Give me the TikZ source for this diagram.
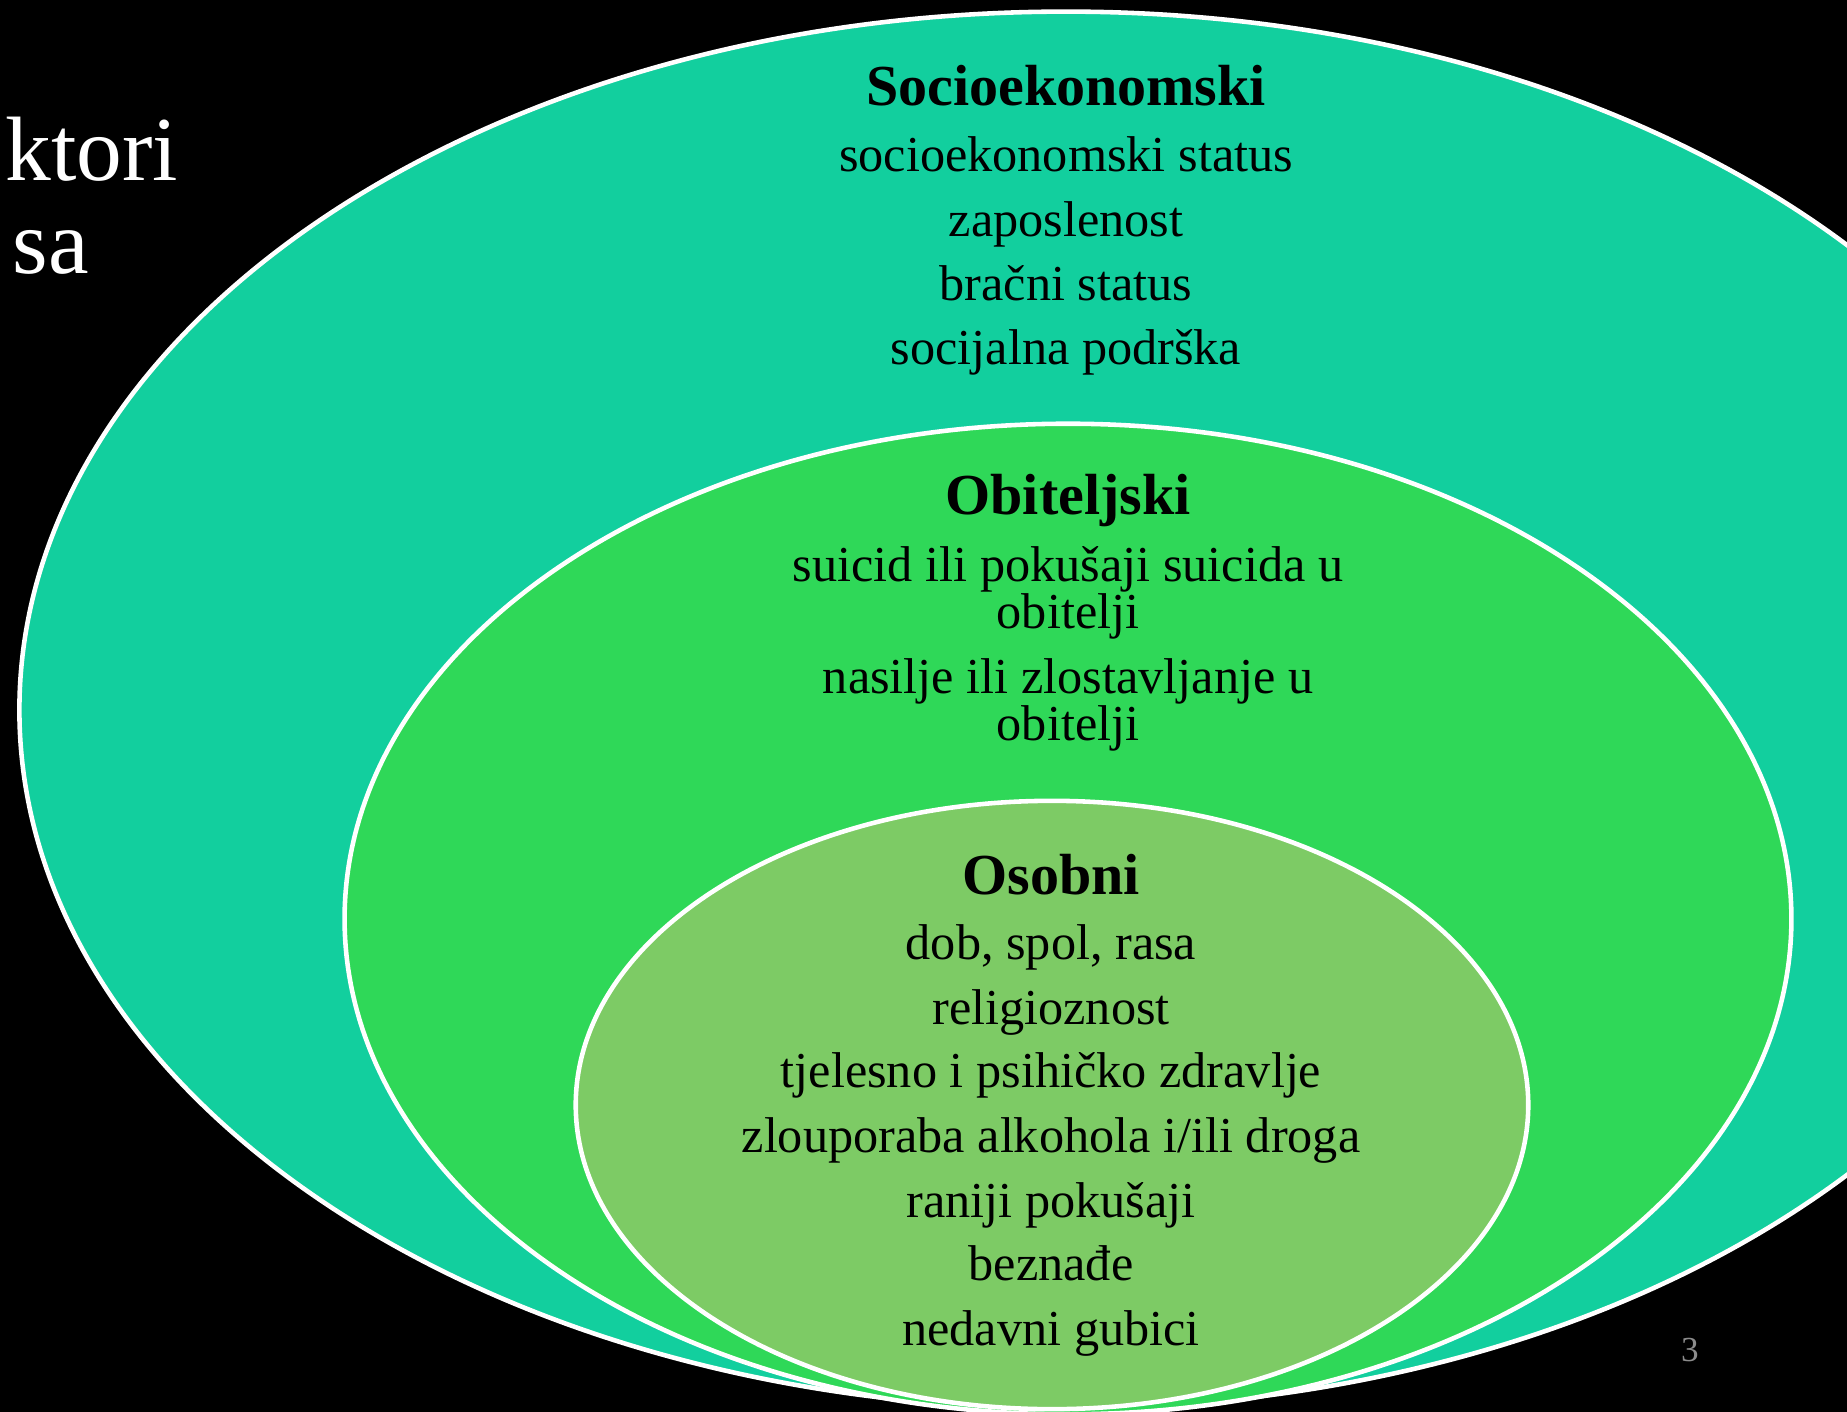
\documentclass[tikz,border=0pt]{standalone}
\usepackage{fontspec}
\setmainfont{Liberation Serif}

\definecolor{SocioFill}{HTML}{12CF9E}
\definecolor{FamilyFill}{HTML}{2FD858}
\definecolor{PersonFill}{HTML}{7DCB65}
\definecolor{PageGray}{HTML}{8C8C8C}

\tikzset{
    ring/.style={draw=white, line width=1.3pt},
    head/.style={anchor=base, inner sep=0pt, font=\fontsize{16.5}{20}\selectfont\bfseries},
    item/.style={anchor=base, inner sep=0pt, font=\fontsize{14.3}{17}\selectfont},
    slidetext/.style={anchor=base, inner sep=0pt, text=white, font=\fontsize{26}{30}\selectfont},
}

\begin{document}
\begin{tikzpicture}[x=0.01cm, y=-0.01cm]

    \useasboundingbox (0,0) rectangle (1847,1412);
    \fill[black] (0,0) rectangle (1847,1412);

    % cut-off slide title
    \node[slidetext, anchor=base east] (title-a) at (179,180) {ktori};
    \node[slidetext, anchor=base west] (title-b) at (12,273) {sa};

    % the three rings
    \coordinate (socio) at (1066,710);
    \coordinate (family) at (1068,919);
    \coordinate (person) at (1052,1105);
    \draw[ring, fill=SocioFill] (socio) ellipse [x radius=10.46cm, y radius=6.98cm];
    \draw[ring, fill=FamilyFill] (family) ellipse [x radius=7.23cm, y radius=4.95cm];
    \draw[ring, fill=PersonFill] (person) ellipse [x radius=4.76cm, y radius=3.04cm];

    \def\cx{1066}
    \node[head] (socio-head) at (\cx,106) {Socioekonomski};
    \node[item] (socio-1) at (\cx,171) {socioekonomski status};
    \node[item] (socio-2) at (\cx,236) {zaposlenost};
    \node[item] (socio-3) at (\cx,300) {bračni status};
    \node[item] (socio-4) at (\cx,364) {socijalna podrška};

    \def\cx{1068}
    \node[head] (family-head) at (\cx,514) {Obiteljski};
    \node[item] (family-1a) at (\cx,581) {suicid ili pokušaji suicida u};
    \node[item] (family-1b) at (\cx,628) {obitelji};
    \node[item] (family-2a) at (\cx,693) {nasilje ili zlostavljanje u};
    \node[item] (family-2b) at (\cx,740) {obitelji};

    \def\cx{1051}
    \node[head] (person-head) at (\cx,894) {Osobni};
    \node[item] (person-1) at (\cx,959) {dob, spol, rasa};
    \node[item] (person-2) at (\cx,1024) {religioznost};
    \node[item] (person-3) at (\cx,1087) {tjelesno i psihičko zdravlje};
    \node[item] (person-4) at (\cx,1152) {zlouporaba alkohola i/ili droga};
    \node[item] (person-5) at (\cx,1217) {raniji pokušaji};
    \node[item] (person-6) at (\cx,1280) {beznađe};
    \node[item] (person-7) at (\cx,1345) {nedavni gubici};

    \node[anchor=base, inner sep=0pt, text=PageGray, font=\fontsize{10}{12}\selectfont] (page) at (1690,1361) {3};

\end{tikzpicture}
\end{document}
